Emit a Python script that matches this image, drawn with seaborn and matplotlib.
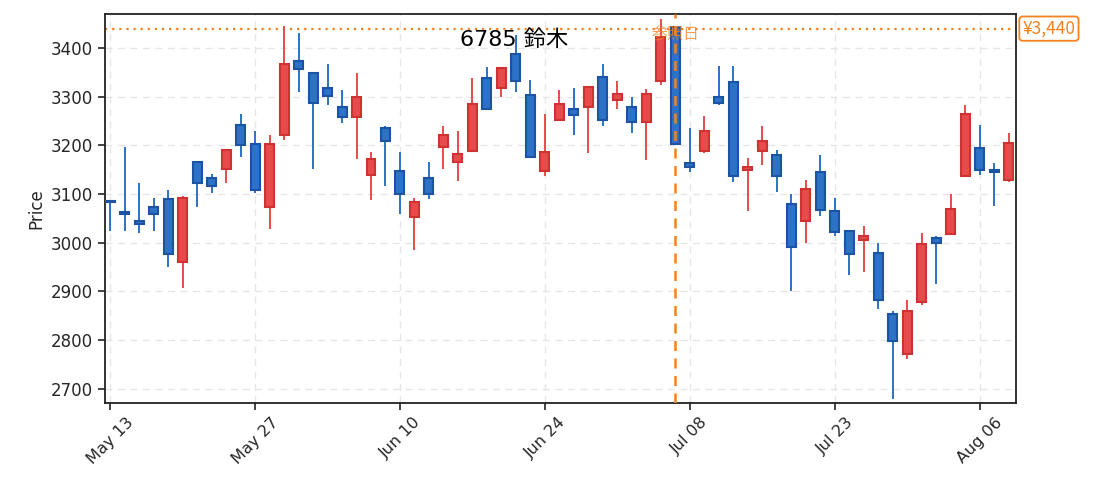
import matplotlib
matplotlib.use("Agg")
import matplotlib.pyplot as plt
import matplotlib.transforms as mtransforms
import seaborn as sns
import numpy as np
import pandas as pd

# trading days (Japan, Marine Day off)
dates = pd.bdate_range("2024-05-13", "2024-08-08", freq="C", holidays=["2024-07-15"])

opens = [3085, 3064, 3045, 3074, 3089, 2960, 3167, 3133, 3151, 3241,
         3202, 3073, 3221, 3373, 3349, 3319, 3280, 3259, 3140, 3236,
         3148, 3052, 3133, 3196, 3166, 3189, 3338, 3317, 3388, 3304,
         3147, 3253, 3275, 3278, 3341, 3294, 3280, 3249, 3333, 3444,
         3164, 3189, 3300, 3330, 3149, 3189, 3181, 3080, 3044, 3146,
         3066, 3025, 3005, 2980, 2854, 2772, 2878, 3010, 3019, 3138,
         3195, 3150, 3129]
highs = [3087, 3196, 3122, 3092, 3108, 3097, 3167, 3141, 3191, 3264,
         3229, 3221, 3446, 3430, 3349, 3367, 3313, 3348, 3186, 3239,
         3186, 3092, 3166, 3239, 3229, 3338, 3362, 3362, 3426, 3334,
         3264, 3313, 3317, 3323, 3368, 3333, 3299, 3315, 3459, 3446,
         3235, 3260, 3364, 3364, 3174, 3239, 3190, 3100, 3129, 3180,
         3093, 3025, 3034, 2999, 2860, 2883, 3020, 3014, 3100, 3284,
         3243, 3163, 3225]
lows = [3024, 3024, 3021, 3024, 2951, 2908, 3074, 3103, 3123, 3176,
        3103, 3029, 3211, 3310, 3151, 3284, 3246, 3172, 3088, 3116,
        3059, 2985, 3089, 3151, 3127, 3189, 3274, 3300, 3310, 3176,
        3137, 3250, 3222, 3185, 3240, 3275, 3226, 3170, 3324, 3204,
        3146, 3185, 3284, 3125, 3065, 3159, 3105, 2900, 3000, 3055,
        3014, 2934, 2939, 2865, 2679, 2761, 2872, 2916, 3019, 3138,
        3140, 3075, 3125]
closes = [3083, 3060, 3039, 3059, 2978, 3093, 3122, 3116, 3191, 3200,
          3108, 3202, 3368, 3358, 3288, 3302, 3259, 3300, 3172, 3210,
          3101, 3084, 3101, 3222, 3183, 3285, 3274, 3359, 3333, 3176,
          3187, 3285, 3263, 3321, 3253, 3306, 3249, 3306, 3422, 3204,
          3155, 3230, 3288, 3138, 3156, 3209, 3138, 2991, 3111, 3068,
          3023, 2978, 3014, 2883, 2798, 2859, 2998, 2999, 3070, 3265,
          3149, 3145, 3205]

title = "6785 鈴木"
ref_index = 39
ref_label = "参照日"
ref_price = 3440

df = pd.DataFrame({"date": dates, "open": opens, "high": highs,
                   "low": lows, "close": closes})
df["x"] = np.arange(len(df))
df["up"] = df["close"] >= df["open"]

sns.set_theme(style="whitegrid")
plt.rcParams["font.family"] = ["DejaVu Sans", "Noto Sans CJK JP"]
cjk = ["Noto Sans CJK JP", "DejaVu Sans"]

fig = plt.figure(figsize=(10.95, 4.92), dpi=100)
ax = fig.add_axes([0.0959, 0.181, 0.832, 0.7905])

up_fill, up_edge = "#e84b4b", "#cf3232"
dn_fill, dn_edge = "#2c72c6", "#1c53a3"

fill = np.where(df["up"], up_fill, dn_fill)
edge = np.where(df["up"], up_edge, dn_edge)

ax.vlines(df["x"], df["low"], df["high"], colors=fill, linewidth=1.4, zorder=3)
body_lo = np.minimum(df["open"], df["close"])
body_h = np.maximum(np.abs(df["close"] - df["open"]), 2)
ax.bar(df["x"], body_h, bottom=body_lo, width=0.62, color=fill,
       edgecolor=edge, linewidth=1.5, zorder=4)

# reference day / price
orange = "#f5821f"
ax.axvline(ref_index, color=orange, linestyle=(0, (4, 3)), linewidth=1.8, zorder=5)
ax.axhline(ref_price, color=orange, linestyle=(0, (1, 2.2)), linewidth=1.6, zorder=2)
ax.text(ref_index, 3428, ref_label, color=orange, alpha=0.75, fontsize=11.5,
        family=cjk, ha="center", va="center", zorder=4.5)
trans = mtransforms.blended_transform_factory(ax.transAxes, ax.transData)
ax.text(1.007, ref_price, f"¥{ref_price:,}", transform=trans, color=orange,
        fontsize=12.5, family=cjk, ha="left", va="center",
        bbox=dict(boxstyle="round,pad=0.18", fc="white", ec=orange, lw=1.3))

ax.text(0.3897, 0.933, title, transform=ax.transAxes, fontsize=16,
        ha="left", va="center", color="black")

ax.set_xlim(-0.35, 62.5)
ax.set_ylim(2671, 3470)
ax.set_yticks(np.arange(2700, 3401, 100))
ticks = df["x"][::10]
ax.set_xticks(ticks)
ax.set_xticklabels(df["date"][::10].dt.strftime("%b %d"), rotation=45, fontsize=11.5)
ax.tick_params(axis="y", labelsize=12)
ax.tick_params(axis="both", length=5, width=1.2, color="#222222", bottom=True, left=True)
ax.set_ylabel("Price", fontsize=12)
ax.set_xlabel("")

ax.grid(True, linestyle=(0, (5, 4)), color="#e6e6e6", linewidth=1.0)
ax.set_facecolor("white")
for s in ax.spines.values():
    s.set_visible(True)
    s.set_color("#222222")
    s.set_linewidth(1.3)

plt.savefig("out.png", dpi=100)
plt.close()
